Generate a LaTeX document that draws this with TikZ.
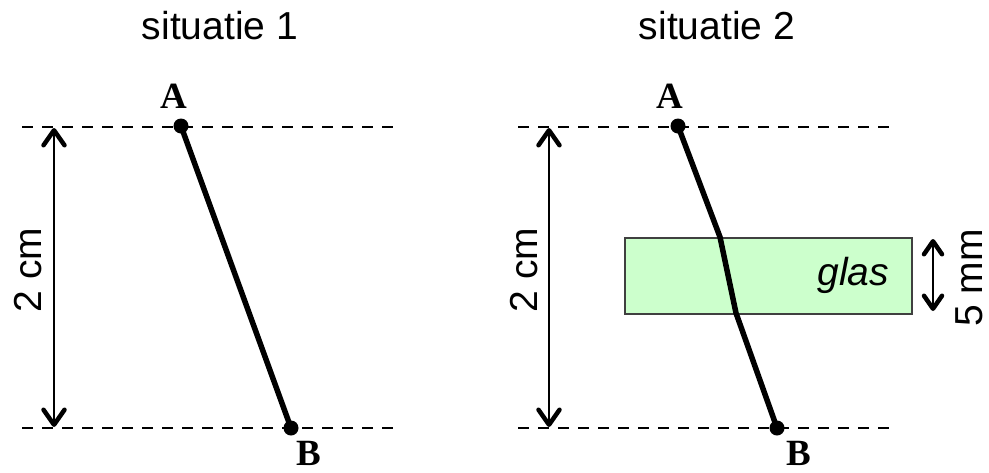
\documentclass[tikz,border=0pt]{standalone}
\usepackage{fontspec}
\setmainfont{Liberation Serif}
\setsansfont{Liberation Sans}
\usepackage{tikz}
\usetikzlibrary{arrows.meta,positioning}

\begin{document}
\begin{tikzpicture}[
    x=1pt, y=-1pt,
    guide/.style={line width=1.7pt, dash pattern=on 11pt off 9pt},
    dimarrow/.style={{Straight Barb[length=15pt, width=21pt, line width=4.5pt, round]}-{Straight Barb[length=15pt, width=21pt, line width=4.5pt, round]}, line width=2pt},
    smallarrow/.style={{Straight Barb[length=13pt, width=18pt, line width=4.5pt, round]}-{Straight Barb[length=13pt, width=18pt, line width=4.5pt, round]}, line width=2pt},
    ray/.style={line width=5.5pt, line join=round},
    dot/.style={circle, fill=black, inner sep=0pt, minimum size=15pt},
    ptlabel/.style={font=\fontsize{37}{42}\selectfont\bfseries, inner sep=0pt},
    sanstext/.style={font=\fontsize{39}{46}\selectfont\sffamily},
    glasbox/.style={rectangle, draw=black!75, fill=green!20, line width=1.5pt, inner sep=0pt},
]
    \useasboundingbox (0,0) rectangle (989,472);

    % Situatie 1
    \node[sanstext] (title1) at (220,26) {situatie 1};
    \coordinate (top1l) at (22,127);
    \coordinate (top1r) at (400,127);
    \coordinate (bot1l) at (22,428);
    \coordinate (bot1r) at (400,428);
    \draw[guide] (top1l) -- (top1r);
    \draw[guide] (bot1l) -- (bot1r);

    \coordinate (dim1t) at (54,128);
    \coordinate (dim1b) at (54,427);
    \draw[dimarrow] (dim1t) -- (dim1b);
    \node[sanstext, rotate=90] (cm1) at (28,270) {2 cm};

    \node[dot] (a1) at (181,126) {};
    \node[dot] (b1) at (291,428) {};
    \draw[ray] (a1.center) -- (b1.center);
    \node[ptlabel] (la1) at (174,96) {A};
    \node[ptlabel] (lb1) at (309,453) {B};

    % Situatie 2
    \node[sanstext] (title2) at (717,26) {situatie 2};
    \coordinate (top2l) at (518,127);
    \coordinate (top2r) at (897,127);
    \coordinate (bot2l) at (518,428);
    \coordinate (bot2r) at (897,428);
    \draw[guide] (top2l) -- (top2r);
    \draw[guide] (bot2l) -- (bot2r);

    \coordinate (dim2t) at (549,128);
    \coordinate (dim2b) at (549,427);
    \draw[dimarrow] (dim2t) -- (dim2b);
    \node[sanstext, rotate=90] (cm2) at (524,270) {2 cm};

    % glasplaat
    \node[glasbox, minimum width=287pt, minimum height=76pt, anchor=north west] (glas) at (624,237) {};
    \node[sanstext, font=\fontsize{39}{46}\selectfont\sffamily\itshape, anchor=east] (glastxt) at ([xshift=-20pt]glas.east) {glas};
    \coordinate (mmt) at (933,239);
    \coordinate (mmb) at (933,311);
    \draw[smallarrow] (mmt) -- (mmb);
    \node[sanstext, rotate=90, inner sep=0pt] (mm) at (969,278) {5 mm};

    \node[dot] (a2) at (678,126) {};
    \node[dot] (b2) at (777,428) {};
    \coordinate (in2) at (720,237);
    \coordinate (out2) at (736,313);
    \draw[ray] (a2.center) -- (in2) -- (out2) -- (b2.center);
    \node[ptlabel] (la2) at (670,96) {A};
    \node[ptlabel] (lb2) at (799,453) {B};
\end{tikzpicture}
\end{document}
